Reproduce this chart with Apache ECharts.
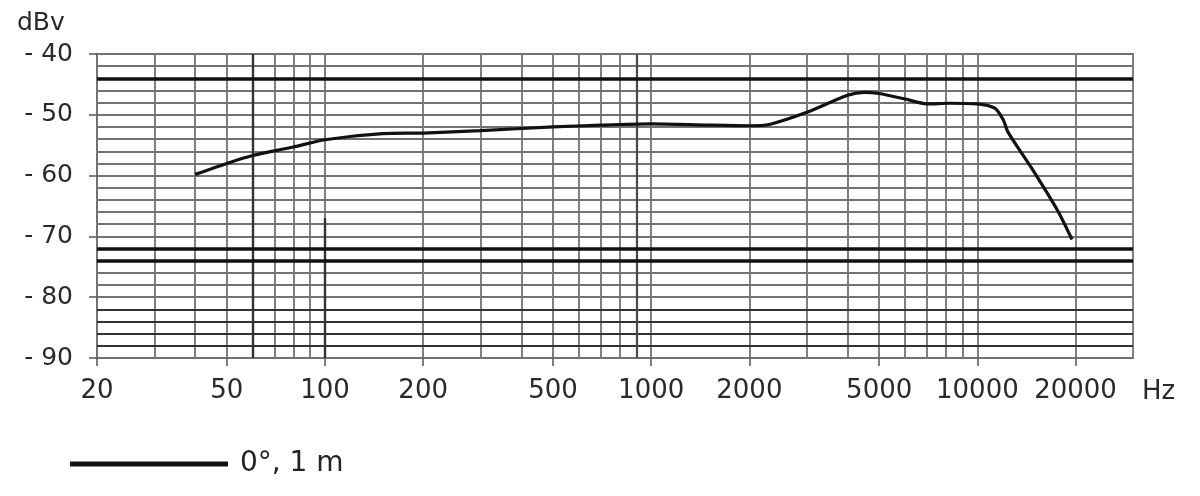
<!DOCTYPE html>
<html>
<head>
<meta charset="utf-8">
<script src="https://cdn.jsdelivr.net/npm/echarts@6/dist/echarts.min.js"></script>
<style>html,body{margin:0;padding:0;background:#fff}#c{width:1200px;height:496px}</style>
</head>
<body>
<div id="c"></div>
<script>
// Frequency response (Hz) and level (dBv)
const freqs  = [40, 50, 60, 80, 100, 150, 200, 300, 500, 700, 1000, 1500, 2000, 2300, 3000, 4000, 4500, 5000, 6000, 7000, 8200, 10000, 11300, 12000, 12400, 14800, 17600, 19500];
const levels = [-59.8, -58.0, -56.7, -55.3, -54.1, -53.1, -53.0, -52.6, -52.0, -51.7, -51.5, -51.7, -51.8, -51.6, -49.6, -46.8, -46.3, -46.5, -47.4, -48.2, -48.1, -48.2, -48.9, -50.8, -52.8, -59.1, -65.7, -70.5];
const seriesName = '0°, 1 m';

// axis ticks / grid
const xLabelFreqs = [20, 50, 100, 200, 500, 1000, 2000, 5000, 10000, 20000];
const gridFreqs = [30, 40, 50, 60, 70, 80, 90, 100, 200, 300, 400, 500, 600, 700, 800, 900, 1000, 2000, 3000, 4000, 5000, 6000, 7000, 8000, 9000, 10000, 20000];
const darkFreqs = [60];
const midFreqs = [900];
const darkSegment100 = [[100, -67], [100, -90]];
const thickLevels = [-44, -72, -74];
const darkLevels = [-82, -84, -86, -88];
const xMin = 20, xMax = 30000, yMin = -90, yMax = -40;

const FONT = 'DejaVu Sans';
const gridColor = '#727272';
const gw = 1.8;

const chart = echarts.init(document.getElementById('c'), null, {renderer: 'canvas'});
chart.setOption({
  animation: false,
  backgroundColor: '#fff',
  grid: {left: 97, right: 67, top: 54, bottom: 138, show: true, borderColor: gridColor, borderWidth: gw},
  xAxis: {
    type: 'log', logBase: 10, min: xMin, max: xMax,
    axisLine: {show: true, lineStyle: {color: gridColor, width: gw}},
    splitLine: {show: false},
    minorSplitLine: {show: false},
    axisTick: {show: true, customValues: xLabelFreqs, length: 8, inside: false, lineStyle: {color: '#555', width: 1.5}},
    axisLabel: {customValues: xLabelFreqs, formatter: v => String(Math.round(v)), fontFamily: FONT, fontSize: 26, color: '#2a2a2a', margin: 20}
  },
  yAxis: {
    type: 'value', min: yMin, max: yMax, interval: 10,
    axisLine: {show: true, lineStyle: {color: gridColor, width: gw}},
    axisTick: {show: true, length: 8, inside: false, lineStyle: {color: '#555', width: 1.5}},
    splitLine: {show: true, lineStyle: {color: gridColor, width: gw}},
    minorTick: {show: false, splitNumber: 5},
    minorSplitLine: {show: true, lineStyle: {color: gridColor, width: gw}},
    axisLabel: {formatter: v => '- ' + Math.abs(v), fontFamily: FONT, fontSize: 25, color: '#2a2a2a', margin: 24}
  },
  legend: {
    left: 70, top: 450, padding: 0, icon: 'rect', itemWidth: 158, itemHeight: 5,
    data: [seriesName],
    textStyle: {fontFamily: FONT, fontSize: 28, color: '#222', padding: [0, 0, 0, 7]}
  },
  graphic: [
    {type: 'text', left: 17, top: 11, style: {text: 'dBv', font: '25px "DejaVu Sans"', fill: '#2a2a2a'}},
    {type: 'text', left: 1142, top: 379, style: {text: 'Hz', font: '26px "DejaVu Sans"', fill: '#2a2a2a'}}
  ],
  series: [
    {
      type: 'line', name: 'grid', data: [], z: 1, silent: true,
      markLine: {
        silent: true, symbol: ['none', 'none'], label: {show: false}, animation: false,
        lineStyle: {color: gridColor, width: gw, type: 'solid'},
        data: gridFreqs.map(f => ({xAxis: f}))
          .concat(darkLevels.map(v => ({yAxis: v, lineStyle: {color: '#333', width: 2.2, type: 'solid'}})))
          .concat(midFreqs.map(f => ({xAxis: f, lineStyle: {color: '#4a4a4a', width: 2.2, type: 'solid'}})))
          .concat(darkFreqs.map(f => ({xAxis: f, lineStyle: {color: '#333', width: 2.4, type: 'solid'}})))
          .concat([[{coord: darkSegment100[0]}, {coord: darkSegment100[1], lineStyle: {color: '#333', width: 2.4, type: 'solid'}}]])
          .concat(thickLevels.map(v => ({yAxis: v, lineStyle: {color: '#111', width: 3.5, type: 'solid'}})))
      }
    },
    {
      type: 'line', name: seriesName, z: 5,
      data: freqs.map((f, i) => [f, levels[i]]),
      showSymbol: false, symbol: 'none', smooth: 0.25,
      lineStyle: {color: '#111', width: 3.2},
      itemStyle: {color: '#111'}
    }
  ]
});
</script>
</body>
</html>
